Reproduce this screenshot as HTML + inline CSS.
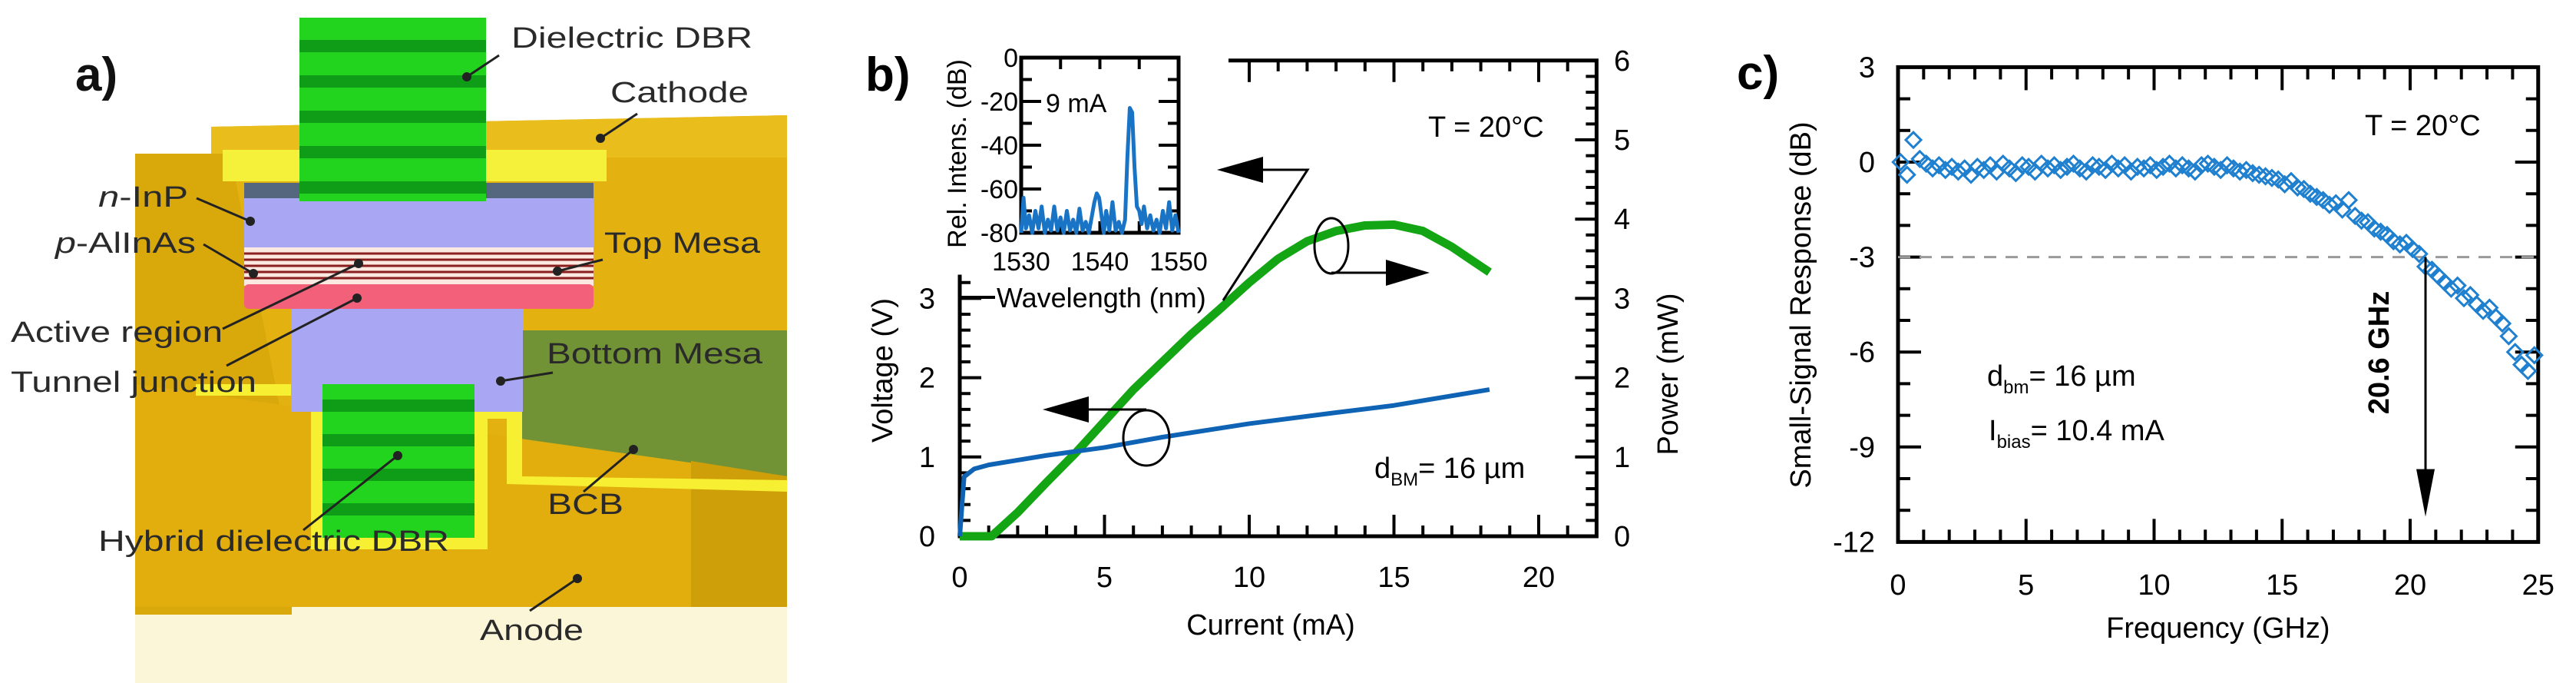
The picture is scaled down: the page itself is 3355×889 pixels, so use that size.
<!DOCTYPE html>
<html><head><meta charset="utf-8"><style>
html,body{margin:0;padding:0;background:#fff;}
svg{display:block;font-family:"Liberation Sans",Arial,sans-serif;}
</style></head><body>
<svg id="fig" width="3355" height="889" viewBox="0 0 3355 889" xmlns="http://www.w3.org/2000/svg">
<!-- Panel a: device illustration -->
<g id="panelA">
  <rect x="176" y="780" width="849" height="109" fill="#fbf6d8"/>
  <polygon points="275,165 1025,150 1025,620 275,620" fill="#e3b210"/>
  <polygon points="275,165 1025,150 1025,205 275,205" fill="#e9bd1c"/>
  <polygon points="176,200 300,200 380,610 380,800 176,800" fill="#d9a90c"/>
  <polygon points="680,430 1025,430 1025,625 680,610" fill="#5e8d3c" opacity="0.85"/>
  <polygon points="176,500 1025,620 1025,790 176,790" fill="#e1ae0e"/>
  <polygon points="900,600 1025,620 1025,790 900,790" fill="#cf9f0a"/>
  <polygon points="290,195 790,195 790,236 290,236" fill="#f5f03a"/>
  <polygon points="255,500 420,500 420,700 618,700 618,530 680,530 680,620 1025,625 1025,640 660,630 660,545 635,545 635,715 405,715 405,515 255,515" fill="#f7ef32"/>
  <rect x="318" y="238" width="455" height="20" fill="#55667f"/>
  <rect x="318" y="258" width="455" height="64" fill="#a9a7f3"/>
  <rect x="318" y="322" width="455" height="50" fill="#fbe8e0"/>
  <g stroke="#8a1d1d" stroke-width="3">
    <line x1="318" y1="330" x2="773" y2="330"/><line x1="318" y1="338" x2="773" y2="338"/><line x1="318" y1="346" x2="773" y2="346"/><line x1="318" y1="354" x2="773" y2="354"/><line x1="318" y1="362" x2="773" y2="362"/>
  </g>
  <rect x="318" y="370" width="455" height="32" rx="6" fill="#f2607a"/>
  <rect x="379" y="402" width="302" height="134" fill="#a9a7f3"/>
  <rect x="390" y="23" width="243" height="239" fill="#22d41e"/>
  <g fill="#0f9c16">
    <rect x="390" y="52" width="243" height="16"/><rect x="390" y="98" width="243" height="16"/><rect x="390" y="144" width="243" height="16"/><rect x="390" y="190" width="243" height="16"/><rect x="390" y="236" width="243" height="16"/>
  </g>
  <rect x="420" y="500" width="198" height="200" fill="#22d41e"/>
  <g fill="#0f9c16">
    <rect x="420" y="520" width="198" height="16"/><rect x="420" y="565" width="198" height="16"/><rect x="420" y="610" width="198" height="16"/><rect x="420" y="655" width="198" height="16"/>
  </g>
  <g stroke="#222" stroke-width="3" fill="none">
    <line x1="650" y1="72" x2="608" y2="100"/><line x1="830" y1="148" x2="782" y2="180"/>
    <line x1="256" y1="258" x2="326" y2="288"/><line x1="265" y1="318" x2="330" y2="356"/>
    <line x1="785" y1="338" x2="726" y2="353"/><line x1="290" y1="428" x2="467" y2="343"/>
    <line x1="295" y1="476" x2="465" y2="388"/><line x1="720" y1="485" x2="652" y2="496"/>
    <line x1="760" y1="640" x2="825" y2="585"/><line x1="395" y1="690" x2="518" y2="593"/>
    <line x1="690" y1="795" x2="752" y2="753"/>
  </g>
  <g fill="#222">
    <circle cx="608" cy="100" r="6"/><circle cx="782" cy="180" r="6"/><circle cx="326" cy="288" r="6"/><circle cx="330" cy="356" r="6"/><circle cx="726" cy="353" r="6"/><circle cx="467" cy="343" r="6"/><circle cx="465" cy="388" r="6"/><circle cx="652" cy="496" r="6"/><circle cx="825" cy="585" r="6"/><circle cx="518" cy="593" r="6"/><circle cx="752" cy="753" r="6"/>
  </g>
  <g fill="#2a2a2a" font-size="38">
    <text x="666" y="62" textLength="314" lengthAdjust="spacingAndGlyphs">Dielectric DBR</text>
    <text x="795" y="133" textLength="180" lengthAdjust="spacingAndGlyphs">Cathode</text>
    <text x="128" y="269" textLength="117" lengthAdjust="spacingAndGlyphs"><tspan font-style="italic">n</tspan>-InP</text>
    <text x="72" y="329" textLength="183" lengthAdjust="spacingAndGlyphs"><tspan font-style="italic">p</tspan>-AlInAs</text>
    <text x="787" y="329" textLength="203" lengthAdjust="spacingAndGlyphs">Top Mesa</text>
    <text x="14" y="445" textLength="276" lengthAdjust="spacingAndGlyphs">Active region</text>
    <text x="712" y="473" textLength="281" lengthAdjust="spacingAndGlyphs">Bottom Mesa</text>
    <text x="14" y="510" textLength="320" lengthAdjust="spacingAndGlyphs">Tunnel junction</text>
    <text x="713" y="669" textLength="99" lengthAdjust="spacingAndGlyphs">BCB</text>
    <text x="128" y="717" textLength="457" lengthAdjust="spacingAndGlyphs">Hybrid dielectric DBR</text>
    <text x="625" y="833" textLength="135" lengthAdjust="spacingAndGlyphs">Anode</text>
  </g>
  <text x="98" y="118" font-size="62" font-weight="bold" fill="#111">a)</text>
</g>
<g id="panelB"></g>
<g id="panelC"></g>
</svg>
<script>
// ---------- Panel b data ----------
const bCurrentV = [0, 0.15, 0.5, 1, 2, 3, 5, 7, 10, 13, 15, 18.3];
const bVoltage  = [0, 0.75, 0.85, 0.9, 0.96, 1.02, 1.12, 1.25, 1.42, 1.56, 1.65, 1.85];
const bCurrentP = [0, 1.1, 2, 3, 4, 5, 6, 7, 8, 9, 10, 11, 12, 13, 14, 15, 16, 17, 18.3];
const bPower    = [0, 0, 0.3, 0.68, 1.05, 1.45, 1.85, 2.2, 2.55, 2.87, 3.2, 3.5, 3.72, 3.85, 3.92, 3.93, 3.85, 3.65, 3.33];
const bXTicks = [0, 5, 10, 15, 20];
const bVTicks = [0, 1, 2, 3];
const bPTicks = [0, 1, 2, 3, 4, 5, 6];
// inset spectrum
const inWl  = [1530,1530.3,1530.6,1531,1531.4,1531.8,1532.2,1532.6,1533,1533.4,1533.8,1534.2,1534.6,1535,1535.4,1535.8,1536.2,1536.6,1537,1537.4,1537.8,1538.2,1538.6,1539,1539.3,1539.6,1539.9,1540.2,1540.5,1540.8,1541.2,1541.6,1542,1542.4,1542.8,1543.2,1543.5,1543.8,1544.1,1544.4,1544.7,1545,1545.3,1545.6,1546,1546.4,1546.8,1547.2,1547.6,1548,1548.4,1548.8,1549.2,1549.6,1550];
const inInt = [-80,-64,-78,-72,-80,-70,-78,-68,-80,-74,-79,-68,-79,-73,-80,-70,-79,-74,-80,-69,-79,-75,-80,-72,-66,-62,-64,-72,-80,-70,-79,-66,-79,-75,-80,-74,-45,-23,-25,-50,-68,-70,-76,-68,-78,-72,-79,-74,-80,-70,-78,-66,-79,-72,-80];
const inXTicks = [1530, 1540, 1550];
const inYTicks = [0, -20, -40, -60, -80];
// ---------- Panel c data ----------
const cFreq = [];
for (let i = 0; i < 100; i++) cFreq.push(+(0.1 + i*0.25).toFixed(2));
const cResp = [0,-0.4,0.7,0.1,-0.05,-0.2,-0.1,-0.25,-0.15,-0.3,-0.2,-0.4,-0.15,-0.25,-0.1,-0.3,-0.05,-0.2,-0.35,-0.1,-0.15,-0.3,-0.05,-0.2,-0.1,-0.25,-0.15,-0.05,-0.2,-0.3,-0.1,-0.15,-0.25,-0.05,-0.2,-0.1,-0.3,-0.15,-0.2,-0.1,-0.25,-0.15,-0.05,-0.2,-0.1,-0.2,-0.3,-0.1,-0.05,-0.15,-0.25,-0.1,-0.2,-0.3,-0.25,-0.35,-0.4,-0.45,-0.5,-0.55,-0.7,-0.6,-0.8,-0.85,-1.0,-1.1,-1.2,-1.35,-1.3,-1.5,-1.2,-1.7,-1.85,-1.9,-2.1,-2.2,-2.3,-2.5,-2.6,-2.55,-2.75,-2.9,-3.3,-3.4,-3.6,-3.8,-4.0,-3.9,-4.3,-4.2,-4.5,-4.7,-4.6,-4.9,-5.1,-5.5,-6.0,-6.4,-6.6,-6.1];
const cXTicks = [0, 5, 10, 15, 20, 25];
const cYTicks = [3, 0, -3, -6, -9, -12];
const cCutoff = 20.6;

const NS = 'http://www.w3.org/2000/svg';
function mk(parent, tag, attrs, txt) {
  const e = document.createElementNS(NS, tag);
  for (const k in attrs) e.setAttribute(k, attrs[k]);
  if (txt !== undefined) e.textContent = txt;
  parent.appendChild(e);
  return e;
}
// ---------- Panel b ----------
const B = document.getElementById('panelB');
const bx = v => 1250 + v * 37.7;
const by = v => 698 - v * 103.2;   // both V and mW share scale
const ix = v => 1330 + (v - 1530) * 10.25;
const iy = v => 75 + (-v) * 2.85;
const AX = {stroke:'#000','stroke-width':5,fill:'none'};
let e;
e = mk(B,'path',Object.assign({d:`M${bx(0)},${by(3.3)} V${by(0)} H${bx(22)} V${by(6)} H1600`},AX));


for (let i = 0; i <= 22; i++) {
  const L = i % 5 === 0 ? 28 : 14;
  e = mk(B,'line',{x1:bx(i),y1:by(0),x2:bx(i),y2:by(0)-L,stroke:'#000','stroke-width':4});
  
  
  if (bx(i) >= 1600) {
    e = mk(B,'line',{x1:bx(i),y1:by(6),x2:bx(i),y2:by(6)+L,stroke:'#000','stroke-width':4});
    
    
  }
}
for (let i = 0; i <= 30; i++) {
  const v = i * 0.2, L = i % 5 === 0 ? 28 : 14;
  e = mk(B,'line',{x1:bx(22),y1:by(v),x2:bx(22)-L,y2:by(v),stroke:'#000','stroke-width':4});
  
  
  if (v <= 3.21) {
    e = mk(B,'line',{x1:bx(0),y1:by(v),x2:bx(0)+L,y2:by(v),stroke:'#000','stroke-width':4});
    
    
  }
}
bXTicks.forEach(t => {
  e = mk(B,'text',{x:bx(t),y:764,'font-size':38,'text-anchor':'middle'},t);
  
  
});
bVTicks.forEach(t => {
  e = mk(B,'text',{x:1218,y:by(t)+13,'font-size':38,'text-anchor':'end'},t);
  
  
});
bPTicks.forEach(t => {
  e = mk(B,'text',{x:2102,y:by(t)+13,'font-size':38},t);
  
  
});
e = mk(B,'text',{x:1655,y:826,'font-size':38,'text-anchor':'middle'},'Current (mA)');


e = mk(B,'text',{x:0,y:0,'font-size':38,'text-anchor':'middle',transform:'translate(1162,482) rotate(-90)'},'Voltage (V)');


e = mk(B,'text',{x:0,y:0,'font-size':38,'text-anchor':'middle',transform:'translate(2185,487) rotate(-90)'},'Power (mW)');


e = mk(B,'text',{x:1860,y:178,'font-size':38},'T  = 20°C');


e = mk(B,'text',{x:1790,y:622,'font-size':38},'');
e.innerHTML = 'd<tspan font-size="24" dy="10">BM</tspan><tspan dy="-10">= 16 µm</tspan>';


// curves
e = mk(B,'polyline',{points:bCurrentP.map((c,i)=>bx(c)+','+by(bPower[i])).join(' '),fill:'none',stroke:'#14a514','stroke-width':11,'stroke-linejoin':'round'});


e = mk(B,'polyline',{points:bCurrentV.map((c,i)=>bx(c)+','+by(bVoltage[i])).join(' '),fill:'none',stroke:'#0f63b5','stroke-width':6,'stroke-linejoin':'round'});


// annotations
const ann = mk(B,'g',{stroke:'#000','stroke-width':3,fill:'none'});


mk(ann,'path',{d:'M1640,221 H1703 L1593,391'});
mk(ann,'ellipse',{cx:1734,cy:320,rx:22,ry:36});
mk(ann,'path',{d:'M1734,355 H1810'});
mk(ann,'ellipse',{cx:1493,cy:570,rx:30,ry:36});
mk(ann,'path',{d:'M1493,533 H1415'});
e = mk(B,'polygon',{points:'1585,221 1645,204 1645,238',fill:'#000'});


e = mk(B,'polygon',{points:'1862,355 1805,338 1805,372',fill:'#000'});


e = mk(B,'polygon',{points:'1358,533 1418,516 1418,550',fill:'#000'});


// inset
e = mk(B,'rect',{x:1330,y:75,width:205,height:228,fill:'none',stroke:'#000','stroke-width':5});


for (let w = 1535; w <= 1545; w += 5) {
  e = mk(B,'line',{x1:ix(w),y1:75,x2:ix(w),y2:90,stroke:'#000','stroke-width':4});
  
  
  e = mk(B,'line',{x1:ix(w),y1:303,x2:ix(w),y2:288,stroke:'#000','stroke-width':4});
  
  
}
for (let v = -10; v >= -70; v -= 10) {
  const L = v % 20 === 0 ? 26 : 14;
  e = mk(B,'line',{x1:1330,y1:iy(v),x2:1330+L,y2:iy(v),stroke:'#000','stroke-width':4});
  
  
  e = mk(B,'line',{x1:1535,y1:iy(v),x2:1535-L,y2:iy(v),stroke:'#000','stroke-width':4});
  
  
}
e = mk(B,'polyline',{points:inWl.map((w,i)=>ix(w)+','+iy(inInt[i])).join(' '),fill:'none',stroke:'#1a74c6','stroke-width':5,'stroke-linejoin':'round'});


inXTicks.forEach(t => {
  e = mk(B,'text',{x:ix(t),y:352,'font-size':34,'text-anchor':'middle'},t);
  
  
});
inYTicks.forEach(t => {
  e = mk(B,'text',{x:1326,y:iy(t)+12,'font-size':34,'text-anchor':'end'},t);
  
  
});
e = mk(B,'text',{x:1362,y:146,'font-size':34},'9 mA');


e = mk(B,'line',{x1:1250,y1:387,x2:1296,y2:387,stroke:'#000','stroke-width':4});


e = mk(B,'text',{x:1298,y:387+13,'font-size':36},'Wavelength (nm)');


e = mk(B,'text',{x:0,y:0,'font-size':34,'text-anchor':'middle',transform:'translate(1258,200) rotate(-90)'},'Rel. Intens. (dB)');


e = mk(B,'text',{x:1127,y:118,'font-size':62,'font-weight':'bold'},'b)');



// ---------- Panel c ----------
const C = document.getElementById('panelC');
const cx = v => 2472 + v * 33.35;
const cy = v => 211 - v * 41.2;
e = mk(C,'rect',{x:cx(0),y:cy(3),width:cx(25)-cx(0),height:cy(-12)-cy(3),fill:'none',stroke:'#000','stroke-width':5});


for (let i = 1; i < 25; i++) {
  const L = i % 5 === 0 ? 30 : 16;
  e = mk(C,'line',{x1:cx(i),y1:cy(-12),x2:cx(i),y2:cy(-12)-L,stroke:'#000','stroke-width':4});
  
  
  e = mk(C,'line',{x1:cx(i),y1:cy(3),x2:cx(i),y2:cy(3)+L,stroke:'#000','stroke-width':4});
  
  
}
for (let v = 2; v >= -11; v--) {
  const L = v % 3 === 0 ? 30 : 16;
  e = mk(C,'line',{x1:cx(0),y1:cy(v),x2:cx(0)+L,y2:cy(v),stroke:'#000','stroke-width':4});
  
  
  e = mk(C,'line',{x1:cx(25),y1:cy(v),x2:cx(25)-L,y2:cy(v),stroke:'#000','stroke-width':4});
  
  
}
e = mk(C,'line',{x1:cx(0),y1:cy(-3),x2:cx(25),y2:cy(-3),stroke:'#9a9a9a','stroke-width':3,'stroke-dasharray':'16 12'});


cXTicks.forEach(t => {
  e = mk(C,'text',{x:cx(t),y:774,'font-size':38,'text-anchor':'middle'},t);
  
  
});
cYTicks.forEach(t => {
  e = mk(C,'text',{x:2442,y:cy(t)+13,'font-size':38,'text-anchor':'end'},t);
  
  
});
e = mk(C,'text',{x:cx(12.5),y:830,'font-size':38,'text-anchor':'middle'},'Frequency (GHz)');


e = mk(C,'text',{x:0,y:0,'font-size':38,'text-anchor':'middle',transform:'translate(2358,397) rotate(-90)'},'Small-Signal Response (dB)');


cFreq.forEach((f,i) => {
  const x = cx(f), y = cy(cResp[i]);
  e = mk(C,'polygon',{points:`${x},${y-10} ${x+10},${y} ${x},${y+10} ${x-10},${y}`,fill:'none',stroke:'#1f80cf','stroke-width':3});
  
  
});
e = mk(C,'line',{x1:cx(cCutoff),y1:cy(-3),x2:cx(cCutoff),y2:cy(-10.5),stroke:'#000','stroke-width':3});


e = mk(C,'polygon',{points:`${cx(cCutoff)},${cy(-11.2)} ${cx(cCutoff)-12},${cy(-9.7)} ${cx(cCutoff)+12},${cy(-9.7)}`,fill:'#000'});


e = mk(C,'text',{x:0,y:0,'font-size':38,'font-weight':'bold','text-anchor':'middle',transform:`translate(${cx(cCutoff)-48},459) rotate(-90)`},cCutoff + ' GHz');


e = mk(C,'text',{x:3080,y:176,'font-size':38},'T  = 20°C');


e = mk(C,'text',{x:2588,y:502,'font-size':38},'');
e.innerHTML = 'd<tspan font-size="24" dy="10">bm</tspan><tspan dy="-10">= 16 µm</tspan>';


e = mk(C,'text',{x:2590,y:573,'font-size':38},'');
e.innerHTML = 'I<tspan font-size="24" dy="10">bias</tspan><tspan dy="-10">= 10.4 mA</tspan>';


e = mk(C,'text',{x:2262,y:116,'font-size':62,'font-weight':'bold'},'c)');


</script>
</body></html>
